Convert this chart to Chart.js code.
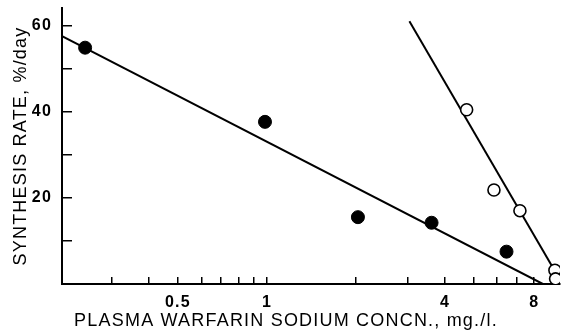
<!DOCTYPE html>
<html>
<head>
<meta charset="utf-8">
<script src="https://cdn.jsdelivr.net/npm/chart.js@4"></script>
<style>
  html, body { margin: 0; padding: 0; background: #fff; }
  #wrap { width: 561px; height: 330px; }
</style>
</head>
<body>
<div id="wrap"><canvas id="chart" width="561" height="330"></canvas></div>
<script>
'use strict';
// readings
var filledX = [0.243, 0.985, 2.03, 3.6, 6.45];
var filledY = [54.8, 37.6, 15.5, 14.2, 7.5];
var openX = [4.73, 5.85, 7.16, 9.4, 9.45];
var openY = [40.4, 21.8, 17.0, 3.2, 1.2];
var filledFitX = [0.203, 8.56];
var filledFitY = [57.5, 0];
var openFitX = [3.03, 9.6];
var openFitY = [60.9, 1.9];
var xTickValues = [0.3, 0.4, 0.5, 0.6, 0.7, 0.8, 0.9, 1, 2, 3, 4, 5, 6, 7, 8];
var xTickLabels = [0.5, 1, 4, 8];
var yTickValues = [10, 20, 30, 40, 50, 60];
var yTickLabels = [20, 40, 60];

function pts(xs, ys) {
  return xs.map(function(x, i) { return { x: x, y: ys[i] }; });
}

var FONT = 'Liberation Sans, Arial, sans-serif';

// the old typeset labels are spaced out a little
var spacing = {
  id: 'spacing',
  beforeDraw: function(chart) { chart.ctx.letterSpacing = '1.2px'; },
  afterDraw: function(chart) { chart.ctx.letterSpacing = '0px'; }
};

new Chart(document.getElementById('chart'), {
  type: 'scatter',
  plugins: [spacing],
  data: {
    datasets: [
      { data: pts(filledFitX, filledFitY), showLine: true, borderColor: '#000', borderWidth: 2, pointRadius: 0, order: 3 },
      { data: pts(openFitX, openFitY), showLine: true, borderColor: '#000', borderWidth: 2, pointRadius: 0, order: 3 },
      { data: pts(filledX, filledY), pointRadius: 6.5, backgroundColor: '#000', borderColor: '#000', borderWidth: 1, order: 1 },
      { data: pts(openX, openY), pointRadius: 6, backgroundColor: '#fff', borderColor: '#000', borderWidth: 1.6, order: 2 }
    ]
  },
  options: {
    responsive: false,
    animation: false,
    layout: { autoPadding: false, padding: { top: 8, right: 1, left: 12, bottom: 0 } },
    plugins: {
      legend: { display: false },
      tooltip: { enabled: false },
      title: {
        display: true,
        position: 'bottom',
        text: 'PLASMA WARFARIN SODIUM CONCN., mg./l.',
        color: '#000',
        font: { family: FONT, size: 18, weight: 'normal', lineHeight: 1 },
        padding: { top: 3, bottom: 0 }
      }
    },
    scales: {
      x: {
        type: 'logarithmic',
        min: 0.203,
        max: 9.78,
        afterBuildTicks: function(scale) {
          scale.ticks = xTickValues.map(function(v) { return { value: v }; });
        },
        afterFit: function(scale) {
          scale.height = 25;
          scale.paddingLeft = 0;
          scale.paddingRight = 0;
        },
        ticks: {
          autoSkip: false,
          maxRotation: 0,
          color: '#000',
          padding: 17.5,
          font: { family: FONT, size: 16, weight: 'bold', lineHeight: 1 },
          callback: function(v) { return xTickLabels.indexOf(v) >= 0 ? String(v) : ''; }
        },
        grid: { drawOnChartArea: false, tickLength: -7, color: '#000', lineWidth: 1.5 },
        border: { color: '#000', width: 2 }
      },
      y: {
        min: 0,
        max: 64,
        afterBuildTicks: function(scale) {
          scale.ticks = yTickValues.map(function(v) { return { value: v }; });
        },
        afterFit: function(scale) {
          scale.width = 50;
          scale.paddingTop = 0;
          scale.paddingBottom = 0;
        },
        ticks: {
          color: '#000',
          padding: 20,
          font: { family: FONT, size: 16, weight: 'bold' },
          callback: function(v) { return yTickLabels.indexOf(v) >= 0 ? String(v) : ''; }
        },
        grid: { drawOnChartArea: false, tickLength: -10, color: '#000', lineWidth: 1.5 },
        border: { color: '#000', width: 2 },
        title: {
          display: true,
          text: 'SYNTHESIS RATE, %/day',
          color: '#000',
          font: { family: FONT, size: 18, weight: 'normal', lineHeight: 1 },
          padding: { top: 0, bottom: 0 }
        }
      }
    }
  }
});
</script>
</body>
</html>
